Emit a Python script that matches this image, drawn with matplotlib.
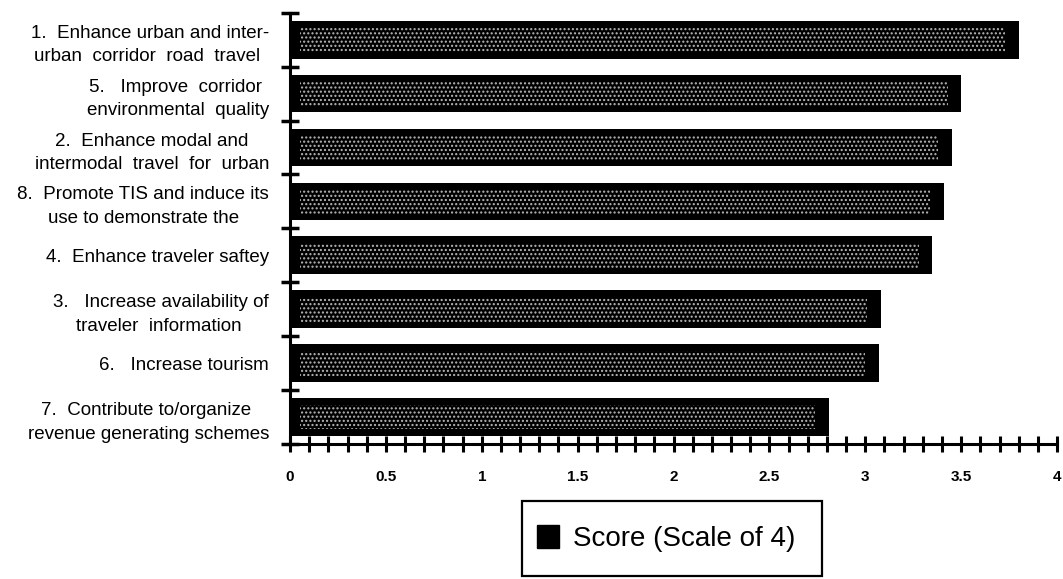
import matplotlib
matplotlib.use("Agg")
import matplotlib.pyplot as plt
from matplotlib.patches import Patch, Rectangle


# objectives, listed top to bottom
labels = [
    "1.  Enhance urban and inter-\nurban  corridor  road  travel ",
    "5.   Improve  corridor \nenvironmental  quality",
    "2.  Enhance modal and\nintermodal  travel  for  urban",
    "8.  Promote TIS and induce its\nuse to demonstrate the",
    "4.  Enhance traveler saftey",
    "3.   Increase availability of\ntraveler  information ",
    "6.   Increase tourism",
    "7.  Contribute to/organize \nrevenue generating schemes",
]
scores = [3.80, 3.50, 3.45, 3.41, 3.35, 3.08, 3.07, 2.81]
x_ticks = [0, 0.5, 1, 1.5, 2, 2.5, 3, 3.5, 4]
x_tick_labels = ["0", "0.5", "1", "1.5", "2", "2.5", "3", "3.5", "4"]
legend_label = "Score (Scale of 4)"

plt.rcParams["font.family"] = ["Liberation Sans", "DejaVu Sans"]
plt.rcParams["hatch.linewidth"] = 1.0
plt.rcParams["hatch.color"] = "#b8b8b8"


def plot_scores():
    fig = plt.figure(figsize=(10.63, 5.79), dpi=100)
    ax = fig.add_axes([0.2728, 0.2332, 0.7216, 0.7448])

    pos = list(range(len(scores)))
    # solid black bars with a dotted halftone core
    ax.barh(pos, scores, height=0.7, color="black", edgecolor="black",
            linewidth=0)
    inner = [s - 0.12 for s in scores]
    ax.barh(pos, inner, left=0.05, height=0.46, color="black",
            hatch="....", linewidth=0)

    ax.set_xlim(0, 4)
    ax.set_ylim(len(scores) - 0.5, -0.5)

    for side in ("top", "right"):
        ax.spines[side].set_visible(False)
    ax.spines["left"].set_linewidth(2.2)
    ax.spines["bottom"].set_linewidth(2.2)

    ax.set_yticks(pos)
    ax.set_yticklabels(labels, fontsize=13.5, multialignment="center",
                       linespacing=1.5)
    ax.set_yticks([p - 0.5 for p in pos] + [len(pos) - 0.5], minor=True)
    ax.tick_params(axis="y", which="major", length=0, pad=15)
    ax.tick_params(axis="y", which="minor", direction="inout", length=13,
                   width=2.5)

    ax.set_xticks(x_ticks)
    ax.set_xticklabels(x_tick_labels, fontsize=11, fontweight="bold")
    ax.set_xticks([i / 10 for i in range(41)], minor=True)
    ax.tick_params(axis="x", which="both", direction="inout", length=12,
                   width=2.2, pad=13)

    # legend box sits below the axis
    fig.patches.append(Rectangle((522 / 1063, 1 - 576 / 579),
                                 300 / 1063, 75 / 579,
                                 transform=fig.transFigure, fill=False,
                                 edgecolor="black", linewidth=1.6))
    fig.legend(handles=[Patch(facecolor="black", edgecolor="black")],
               labels=[legend_label], loc="upper left",
               bbox_to_anchor=(537 / 1063, 1 - 525 / 579), frameon=False,
               fontsize=20, borderpad=0, borderaxespad=0,
               handlelength=0.8, handleheight=0.9, handletextpad=0.5)

    fig.savefig("out.png", dpi=100)


if __name__ == "__main__":
    plot_scores()
